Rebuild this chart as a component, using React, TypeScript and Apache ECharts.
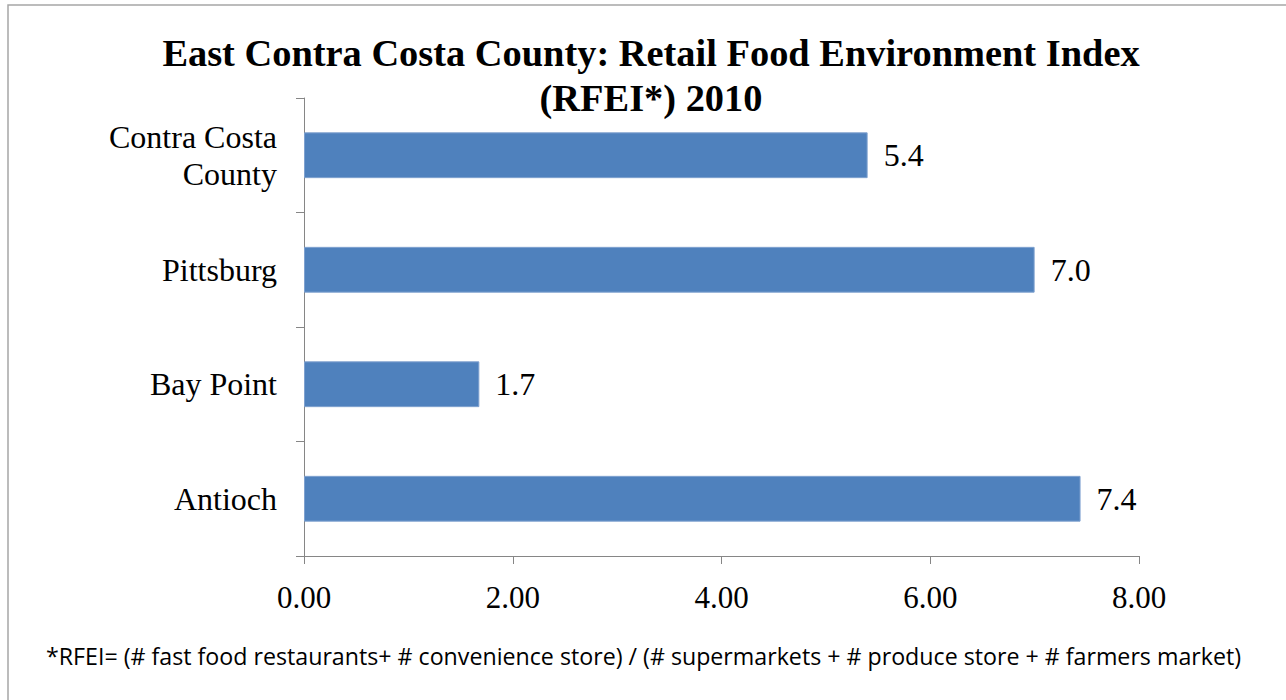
import React, { useEffect, useRef } from "react";
import * as echarts from "echarts";

const categories = ["Contra Costa\nCounty", "Pittsburg", "Bay Point", "Antioch"];
const values = [5.4, 7.0, 1.68, 7.44];
const xTicks = [0, 2, 4, 6, 8];
const titleText = "East Contra Costa County: Retail Food Environment Index\n(RFEI*) 2010";
const footnote =
  "*RFEI= (# fast food restaurants+ # convenience store) / (# supermarkets + # produce store + # farmers market)";

export default function App() {
  const ref = useRef<HTMLDivElement>(null);
  useEffect(() => {
    const chart = echarts.init(ref.current!, null, { renderer: "svg" });
    const serif = "'Liberation Serif', 'Times New Roman', serif";
    chart.setOption({
      animation: false,
      backgroundColor: "#ffffff",
      title: {
        text: titleText,
        left: 646,
        top: 25,
        textAlign: "center",
        textStyle: {
          fontFamily: serif,
          fontWeight: "bold",
          fontSize: 38.4,
          lineHeight: 45,
          color: "#000",
        },
      },
      graphic: [
        {
          type: "rect",
          shape: { x: 8, y: 5, width: 1400, height: 800 },
          style: { fill: "none", stroke: "#a6a6a6", lineWidth: 1.5 },
          silent: true,
        },
        {
          type: "text",
          x: 46,
          y: 656,
          style: {
            text: footnote,
            font: "23.2px 'Open Sans', sans-serif",
            fill: "#000",
            verticalAlign: "middle",
          },
        },
      ],
      grid: { left: 304, top: 98, right: 147, bottom: 144, containLabel: false },
      xAxis: {
        type: "value",
        min: xTicks[0],
        max: xTicks[xTicks.length - 1],
        interval: 2,
        axisLine: { show: true, lineStyle: { color: "#868686", width: 1 } },
        axisTick: { show: true, length: 8, lineStyle: { color: "#868686" } },
        splitLine: { show: false },
        axisLabel: {
          margin: 26,
          formatter: (v: number) => v.toFixed(2),
          fontFamily: serif,
          fontSize: 31,
          color: "#000",
        },
      },
      yAxis: {
        type: "category",
        inverse: true,
        data: categories,
        axisLine: { show: true, lineStyle: { color: "#868686", width: 1 } },
        axisTick: { show: true, length: 8, lineStyle: { color: "#868686" } },
        axisLabel: {
          margin: 27,
          fontFamily: serif,
          fontSize: 32,
          lineHeight: 37,
          color: "#000",
          align: "right",
        },
      },
      series: [
        {
          type: "bar",
          data: values,
          barWidth: "40%",
          itemStyle: { color: "#4f81bd", borderColor: "#7fa1cf", borderWidth: 1 },
          label: {
            show: true,
            position: "right",
            distance: 16,
            formatter: (p: any) => Number(p.value).toFixed(1),
            fontFamily: serif,
            fontSize: 32,
            color: "#000",
          },
        },
      ],
    });
    return () => chart.dispose();
  }, []);
  return (
    <div
      ref={ref}
      style={{ position: "absolute", left: 0, top: 0, width: 1286, height: 700, background: "#fff" }}
    />
  );
}
